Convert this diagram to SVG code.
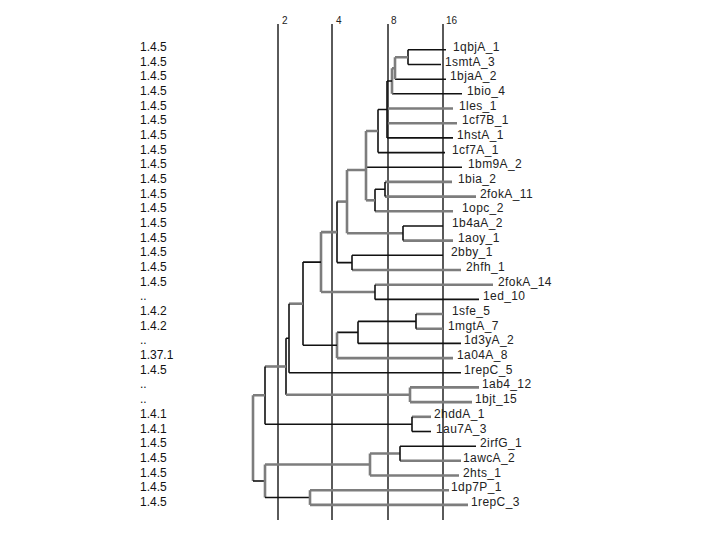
<svg xmlns="http://www.w3.org/2000/svg" width="720" height="540" viewBox="0 0 720 540">
<style>
.ax{stroke:#5a5a5a;stroke-width:2;fill:none}
.axt{font-family:"Liberation Sans",Arial,sans-serif;font-size:10px;fill:#222}
.b{stroke:#111;stroke-width:1.6;fill:none}
.g{stroke:#7d7d7d;stroke-width:2.6;fill:none}
.lf{font-family:"Liberation Sans",Arial,sans-serif;font-size:12px;fill:#222;letter-spacing:0.4px}
.ec{font-family:"Liberation Sans",Arial,sans-serif;font-size:12px;fill:#111}
</style>
<rect width="720" height="540" fill="#fff"/>
<g id="axis">
<line class="ax" x1="278" y1="24" x2="278" y2="520"/>
<line class="ax" x1="332" y1="24" x2="332" y2="520"/>
<line class="ax" x1="388" y1="24" x2="388" y2="520"/>
<line class="ax" x1="443" y1="24" x2="443" y2="520"/>
<text class="axt" x="282" y="24">2</text>
<text class="axt" x="336" y="24">4</text>
<text class="axt" x="391" y="24">8</text>
<text class="axt" x="446" y="24">16</text>
</g>
<g id="connectors">
<!-- leaf lines -->
<path class="b" d="M408 49.8H446M408 64.5H441"/>
<path class="b" d="M395 79.2H446"/>
<path class="b" d="M392 93.8H462"/>
<path class="g" d="M387 108.5H453M387 123.2H457"/>
<path class="b" d="M387 137.9H453"/>
<path class="b" d="M378 152.6H445"/>
<path class="b" d="M366 167.2H462"/>
<path class="g" d="M385 181.9H452M385 196.6H476"/>
<path class="g" d="M375 211.3H453"/>
<path class="b" d="M403 226H443"/>
<path class="g" d="M403 240.6H453"/>
<path class="b" d="M352 255.3H443"/>
<path class="g" d="M352 270H461"/>
<path class="g" d="M375 284.7H493"/>
<path class="b" d="M375 299.4H479"/>
<path class="g" d="M416 314H443M416 328.7H443"/>
<path class="b" d="M358 343.4H461"/>
<path class="g" d="M337 358.1H453"/>
<path class="b" d="M289 372.8H461"/>
<path class="g" d="M410 387.4H479M410 402.1H472"/>
<path class="g" d="M412 416.8H431"/>
<path class="b" d="M412 431.5H431"/>
<path class="b" d="M400 446.2H476"/>
<path class="g" d="M400 460.8H461M370 475.5H459"/>
<path class="g" d="M310 490.2H449M310 504.9H468"/>
<!-- internal nodes -->
<path class="b" d="M408 49.8V64.5"/>
<path class="g" d="M395 57.2H408M395 57.2V79.2"/>
<path class="g" d="M392 68.2H395M392 68.2V93.8"/>
<path class="b" d="M387 81H392M387 81V137.9"/>
<path class="b" d="M378 109.5H387M378 109.5V152.6"/>
<path class="g" d="M366 131H378M366 131V200.3"/>
<path class="b" d="M385 181.9V196.6M375 189.2H385M375 189.2V211.3"/>
<path class="g" d="M366 200.3H375"/>
<path class="g" d="M347 170H366M347 170V233.3M347 233.3H403"/>
<path class="b" d="M403 226V240.6"/>
<path class="g" d="M337 201.6H347"/>
<path class="b" d="M337 201.6V262.6M337 262.6H352M352 255.3V270"/>
<path class="g" d="M321 232.1H337M321 232.1V292M321 292H375"/>
<path class="b" d="M375 284.7V299.4"/>
<path class="b" d="M416 314V328.7M358 321.4H416M358 321.4V343.4M337 332.4H358"/>
<path class="g" d="M337 332.4V358.1"/>
<path class="b" d="M303 262.1H321M303 262.1V345.2M303 345.2H337"/>
<path class="g" d="M289 303.7H303"/>
<path class="b" d="M289 303.7V372.8"/>
<path class="b" d="M286 338.2H289M286 338.2V394.8"/>
<path class="g" d="M286 394.8H410M410 387.4V402.1"/>
<path class="g" d="M265 366.5H286"/>
<path class="b" d="M265 366.5V424.2M265 424.2H412M412 416.8V431.5"/>
<path class="g" d="M253 395.3H265M253 395.3V481"/>
<path class="b" d="M253 481H265"/>
<path class="g" d="M265 464.5V497.5M265 464.5H370M370 453.5V475.5M370 453.5H400"/>
<path class="b" d="M400 446.2V460.8"/>
<path class="b" d="M265 497.5H310"/>
<path class="g" d="M310 490.2V504.9"/>
</g>
<g id="leaves">
<g id="n0"><text class="ec" x="140" y="51">1.4.5</text><text class="lf" x="453" y="51">1qbjA_1</text></g>
<g id="n1"><text class="ec" x="140" y="65.5">1.4.5</text><text class="lf" x="445" y="65.5">1smtA_3</text></g>
<g id="n2"><text class="ec" x="140" y="80.2">1.4.5</text><text class="lf" x="450" y="80.2">1bjaA_2</text></g>
<g id="n3"><text class="ec" x="140" y="94.8">1.4.5</text><text class="lf" x="467" y="94.8">1bio_4</text></g>
<g id="n4"><text class="ec" x="140" y="109.5">1.4.5</text><text class="lf" x="459" y="109.5">1les_1</text></g>
<g id="n5"><text class="ec" x="140" y="124.2">1.4.5</text><text class="lf" x="462" y="124.2">1cf7B_1</text></g>
<g id="n6"><text class="ec" x="140" y="138.9">1.4.5</text><text class="lf" x="457" y="138.9">1hstA_1</text></g>
<g id="n7"><text class="ec" x="140" y="153.6">1.4.5</text><text class="lf" x="452" y="153.6">1cf7A_1</text></g>
<g id="n8"><text class="ec" x="140" y="168.2">1.4.5</text><text class="lf" x="468" y="168.2">1bm9A_2</text></g>
<g id="n9"><text class="ec" x="140" y="182.9">1.4.5</text><text class="lf" x="458" y="182.9">1bia_2</text></g>
<g id="n10"><text class="ec" x="140" y="197.6">1.4.5</text><text class="lf" x="480" y="197.6">2fokA_11</text></g>
<g id="n11"><text class="ec" x="140" y="212.3">1.4.5</text><text class="lf" x="462" y="212.3">1opc_2</text></g>
<g id="n12"><text class="ec" x="140" y="227">1.4.5</text><text class="lf" x="452" y="227">1b4aA_2</text></g>
<g id="n13"><text class="ec" x="140" y="241.6">1.4.5</text><text class="lf" x="458" y="241.6">1aoy_1</text></g>
<g id="n14"><text class="ec" x="140" y="256.3">1.4.5</text><text class="lf" x="451" y="256.3">2bby_1</text></g>
<g id="n15"><text class="ec" x="140" y="271">1.4.5</text><text class="lf" x="466" y="271">2hfh_1</text></g>
<g id="n16"><text class="ec" x="140" y="285.7">1.4.5</text><text class="lf" x="498" y="285.7">2fokA_14</text></g>
<g id="n17"><text class="ec" x="140" y="300.4">..</text><text class="lf" x="483" y="300.4">1ed_10</text></g>
<g id="n18"><text class="ec" x="140" y="315">1.4.2</text><text class="lf" x="452" y="315">1sfe_5</text></g>
<g id="n19"><text class="ec" x="140" y="329.7">1.4.2</text><text class="lf" x="448" y="329.7">1mgtA_7</text></g>
<g id="n20"><text class="ec" x="140" y="344.4">..</text><text class="lf" x="464" y="344.4">1d3yA_2</text></g>
<g id="n21"><text class="ec" x="140" y="359.1">1.37.1</text><text class="lf" x="457" y="359.1">1a04A_8</text></g>
<g id="n22"><text class="ec" x="140" y="373.8">1.4.5</text><text class="lf" x="464" y="373.8">1repC_5</text></g>
<g id="n23"><text class="ec" x="140" y="388.4">..</text><text class="lf" x="482" y="388.4">1ab4_12</text></g>
<g id="n24"><text class="ec" x="140" y="403.1">..</text><text class="lf" x="475" y="403.1">1bjt_15</text></g>
<g id="n25"><text class="ec" x="140" y="417.8">1.4.1</text><text class="lf" x="434" y="417.8">2hddA_1</text></g>
<g id="n26"><text class="ec" x="140" y="432.5">1.4.1</text><text class="lf" x="436" y="432.5">1au7A_3</text></g>
<g id="n27"><text class="ec" x="140" y="447.2">1.4.5</text><text class="lf" x="480" y="447.2">2irfG_1</text></g>
<g id="n28"><text class="ec" x="140" y="461.8">1.4.5</text><text class="lf" x="463" y="461.8">1awcA_2</text></g>
<g id="n29"><text class="ec" x="140" y="476.5">1.4.5</text><text class="lf" x="463" y="476.5">2hts_1</text></g>
<g id="n30"><text class="ec" x="140" y="491.2">1.4.5</text><text class="lf" x="451" y="491.2">1dp7P_1</text></g>
<g id="n31"><text class="ec" x="140" y="505.9">1.4.5</text><text class="lf" x="471" y="505.9">1repC_3</text></g>
</g>
</svg>
